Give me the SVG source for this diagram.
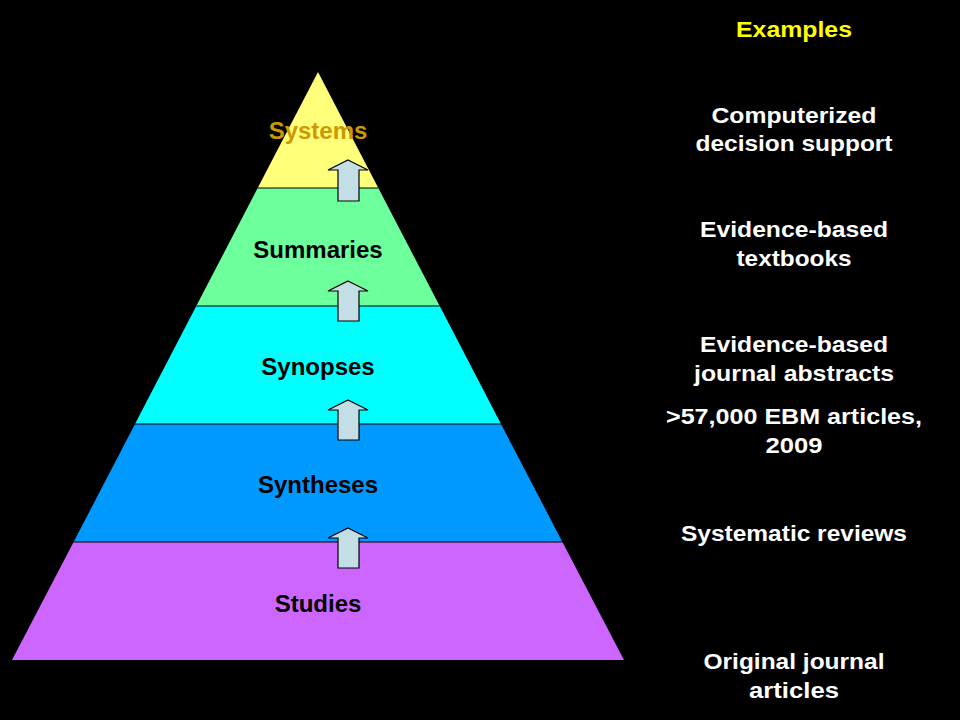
<svg xmlns="http://www.w3.org/2000/svg" width="960" height="720" viewBox="0 0 960 720">
<style>
.band{stroke:none}
.sep{stroke:#000;stroke-width:1.2}
.lbl{font-family:"Liberation Sans",Arial,sans-serif;font-weight:bold;font-size:24px;text-anchor:middle;fill:#000}
.ex{font-family:"Liberation Sans",Arial,sans-serif;font-weight:bold;font-size:22px;text-anchor:middle;fill:#fff}
.arr{fill:#C4DEE6;stroke:#000;stroke-width:1.2}
</style>
<rect width="960" height="720" fill="#000"/>
<g id="pyramid">
<g id="systems"><polygon class="band" points="318,72 378.3,188 257.7,188" fill="#FFFF7A"/><text class="lbl" x="318" y="139" style="fill:#CC9900">Systems</text></g>
<g id="summaries"><polygon class="band" points="257.7,188 378.3,188 439.7,306 196.3,306" fill="#6CFF9C"/><text class="lbl" x="318" y="258">Summaries</text></g>
<g id="synopses"><polygon class="band" points="196.3,306 439.7,306 501,424 135,424" fill="#00FFFF"/><text class="lbl" x="318" y="375">Synopses</text></g>
<g id="syntheses"><polygon class="band" points="135,424 501,424 562.4,542 73.6,542" fill="#0099FF"/><text class="lbl" x="318" y="493">Syntheses</text></g>
<g id="studies"><polygon class="band" points="73.6,542 562.4,542 624,660 12,660" fill="#CC66FF"/><text class="lbl" x="318" y="612">Studies</text></g>
<line class="sep" x1="257.7" y1="188" x2="378.3" y2="188"/>
<line class="sep" x1="196.3" y1="306" x2="439.7" y2="306"/>
<line class="sep" x1="135" y1="424" x2="501" y2="424"/>
<line class="sep" x1="73.6" y1="542" x2="562.4" y2="542"/>
</g>
<g id="connectors">
<polygon class="arr" points="348,160 368,170 359,170 359,201 338,201 338,170 328,170"/>
<polygon class="arr" points="348,281 368,291 359,291 359,321 338,321 338,291 328,291"/>
<polygon class="arr" points="348,400 368,410 359,410 359,440 338,440 338,410 328,410"/>
<polygon class="arr" points="348,528 368,538 359,538 359,568 338,568 338,538 328,538"/>
</g>
<g id="examples">
<text class="ex" x="794" y="37" textLength="116" lengthAdjust="spacingAndGlyphs" style="fill:#FFFF00">Examples</text>
<text class="ex" x="794" y="123" textLength="165" lengthAdjust="spacingAndGlyphs">Computerized</text>
<text class="ex" x="794" y="151" textLength="197" lengthAdjust="spacingAndGlyphs">decision support</text>
<text class="ex" x="794" y="237" textLength="188" lengthAdjust="spacingAndGlyphs">Evidence-based</text>
<text class="ex" x="794" y="266" textLength="115" lengthAdjust="spacingAndGlyphs">textbooks</text>
<text class="ex" x="794" y="352" textLength="188" lengthAdjust="spacingAndGlyphs">Evidence-based</text>
<text class="ex" x="794" y="381" textLength="200" lengthAdjust="spacingAndGlyphs">journal abstracts</text>
<text class="ex" x="794" y="424" textLength="256" lengthAdjust="spacingAndGlyphs">&gt;57,000 EBM articles,</text>
<text class="ex" x="794" y="453" textLength="57" lengthAdjust="spacingAndGlyphs">2009</text>
<text class="ex" x="794" y="541" textLength="226" lengthAdjust="spacingAndGlyphs">Systematic reviews</text>
<text class="ex" x="794" y="669" textLength="181" lengthAdjust="spacingAndGlyphs">Original journal</text>
<text class="ex" x="794" y="698" textLength="90" lengthAdjust="spacingAndGlyphs">articles</text>
</g>
</svg>
